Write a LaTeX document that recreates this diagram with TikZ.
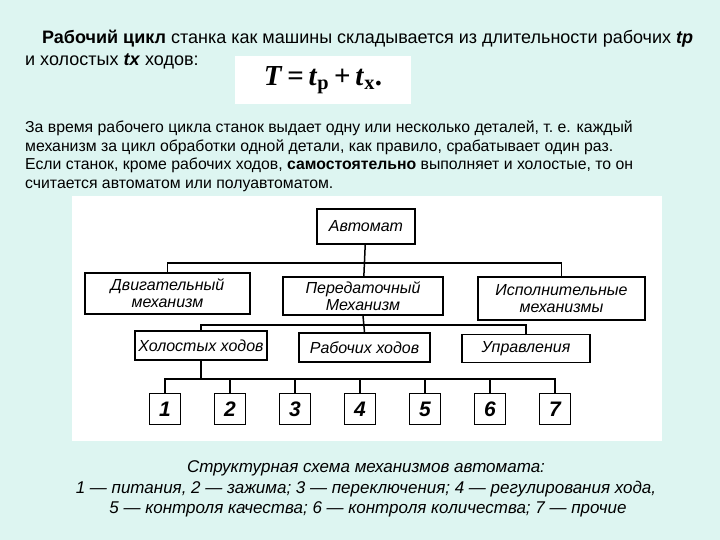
\documentclass[tikz,border=0pt]{standalone}
\usepackage{fontspec}
\setmainfont{Liberation Sans}
\newfontfamily\formulafont{Liberation Serif}
\usetikzlibrary{positioning}
\definecolor{bgmint}{RGB}{221,245,241}
\tikzset{
  block/.style={draw, line width=1.6pt, fill=white, inner sep=1pt, align=center,
    font=\fontsize{16}{17}\selectfont\itshape},
  numbox/.style={draw, line width=1.6pt, fill=white, minimum width=31pt, minimum height=31pt,
    font=\fontsize{21}{21}\selectfont\bfseries\itshape},
  link/.style={line width=1.5pt},
  headtxt/.style={anchor=base west, inner sep=0pt, font=\fontsize{18}{21}\selectfont},
  txt/.style={anchor=base west, inner sep=0pt, font=\fontsize{15.8}{18}\selectfont},
  captxt/.style={anchor=base, inner sep=0pt, font=\fontsize{17}{20}\selectfont\itshape},
}
\begin{document}
\begin{tikzpicture}[x=1pt,y=-1pt]
  \fill[bgmint] (0,0) rectangle (720,540);
  \useasboundingbox (0,0) rectangle (720,540);

  % text above the scheme
  \node (head1) [headtxt] at (42,44) {\textbf{Рабочий цикл} станка как машины складывается из длительности рабочих \textbf{\textit{tр}}};
  \node (head2) [headtxt] at (25,66) {и холостых \textbf{\textit{tх}} ходов:};
  \node (formula) [fill=white, minimum width=176pt, minimum height=48pt,
    font=\formulafont\fontsize{29}{29}\selectfont\bfseries] at (323,80)
    {\textit{T}\,=\,\textit{t}\textsubscript{р}\,+\,\textit{t}\textsubscript{х}.};
  \node (par1) [txt] at (25,133) {За время рабочего цикла станок выдает одну или несколько деталей, т.~е. каждый};
  \node (par2) [txt] at (25,152) {механизм за цикл обработки одной детали, как правило, срабатывает один раз.};
  \node (par3) [txt] at (25,170) {Если станок, кроме рабочих ходов, \textbf{самостоятельно} выполняет и холостые, то он};
  \node (par4) [txt] at (25,189) {считается автоматом или полуавтоматом.};

  % scheme
  \fill[white] (72,196) rectangle (662,441);
  \node (avt) [block, minimum width=98pt, minimum height=35pt] at (366,226.5) {Автомат};
  \node (dvig) [block, minimum width=165pt, minimum height=41pt] at (167.5,293.5) {Двигательный\\механизм};
  \node (per) [block, minimum width=160pt, minimum height=38pt] at (363,296) {Передаточный\\Механизм};
  \node (isp) [block, minimum width=167pt, minimum height=43pt] at (561.5,298.5) {Исполнительные\\механизмы};
  \node (hol) [block, minimum width=132pt, minimum height=29pt] at (201,345.5) {Холостых ходов};
  \node (rab) [block, minimum width=131pt, minimum height=29pt] at (364.5,347.5) {Рабочих ходов};
  \node (upr) [block, minimum width=128pt, minimum height=28pt] at (526,348.5) {Управления};
  \foreach \i in {1,...,7}
    \node (m\i) [numbox] at ({165+65*(\i-1)},409) {\i};

  \coordinate (bus1) at (366,263);
  \coordinate (bus2) at (364,325);
  \coordinate (bus3) at (201,379);
  \draw[link] (avt) -- (per);
  \draw[link] (dvig.north) |- (bus1) -| (isp.north);
  \draw[link] (per.south) -- (rab.north);
  \draw[link] (hol.north) |- (bus2) -| (upr.north);
  \draw[link] (hol.south) -- (bus3);
  \draw[link] (m1.north) |- (bus3) -| (m7.north);
  \foreach \i in {2,...,6}
    \draw[link] (m\i.north) -- (m\i.north |- bus3);

  % caption
  \node (cap1) [captxt] at (366,472) {Структурная схема механизмов автомата:};
  \node (cap2) [captxt] at (366,493) {1 — питания, 2 — зажима; 3 — переключения; 4 — регулирования хода,};
  \node (cap3) [captxt] at (368,513) {5 — контроля качества; 6 — контроля количества; 7 — прочие};
\end{tikzpicture}
\end{document}
